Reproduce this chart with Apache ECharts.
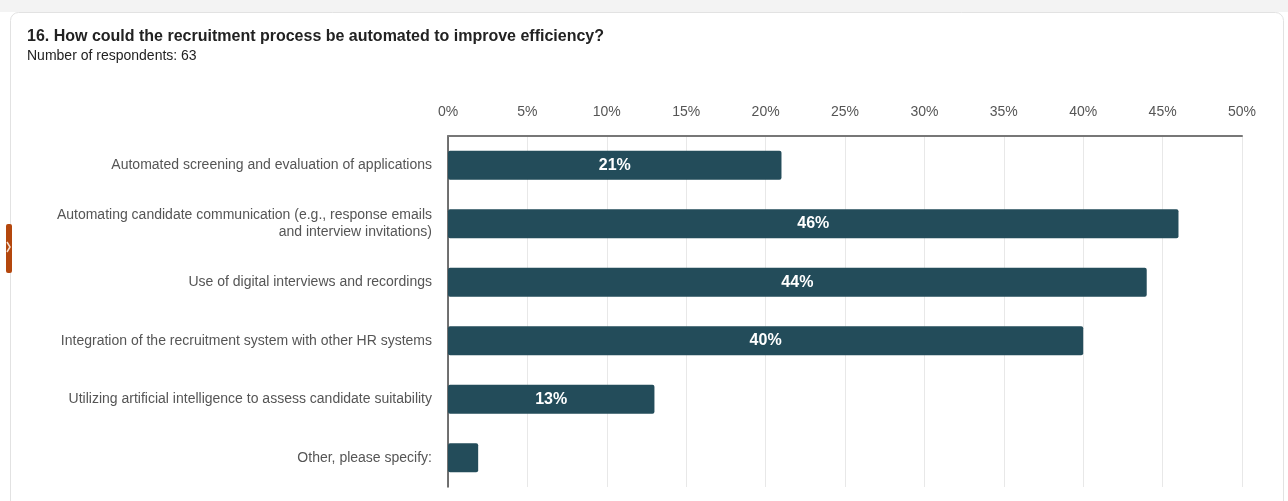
<!DOCTYPE html>
<html>
<head>
<meta charset="utf-8">
<script src="https://cdn.jsdelivr.net/npm/echarts@6/dist/echarts.min.js"></script>
<style>
  html, body { margin: 0; padding: 0; background: #ffffff; }
  #chart { width: 1288px; height: 501px; }
</style>
</head>
<body>
<div id="chart"></div>
<script>
// Survey question 16: answer options and share of respondents (%)
const categories = [
  'Automated screening and evaluation of applications',
  'Automating candidate communication (e.g., response emails\nand interview invitations)',
  'Use of digital interviews and recordings',
  'Integration of the recruitment system with other HR systems',
  'Utilizing artificial intelligence to assess candidate suitability',
  'Other, please specify:'
];
const shares = [21, 46, 44, 40, 13, 1.9];
const titleText = '16. How could the recruitment process be automated to improve efficiency?';
const subtitleText = 'Number of respondents: 63';

const font = '"Liberation Sans", Arial, sans-serif';
const chart = echarts.init(document.getElementById('chart'));

chart.setOption({
  animation: false,
  backgroundColor: '#ffffff',
  textStyle: { fontFamily: font },
  graphic: [
    // grey strip above the card
    { type: 'rect', z: -10, silent: true, shape: { x: 0, y: 0, width: 1288, height: 12 }, style: { fill: '#f3f3f3' } },
    // card outline
    { type: 'rect', z: -9, silent: true, shape: { x: 10.5, y: 12.5, width: 1273, height: 520, r: 8 },
      style: { fill: '#ffffff', stroke: '#e2e2e2', lineWidth: 1 } },
    // side tab
    { type: 'rect', z: 5, silent: true, shape: { x: 6, y: 224, width: 6, height: 49, r: 2 }, style: { fill: '#b4470d' } },
    { type: 'polyline', z: 6, silent: true, shape: { points: [[7, 242], [10, 247], [7, 252]] },
      style: { stroke: '#f6e0d2', lineWidth: 1.5, fill: null } },
    // title and subtitle
    { type: 'text', left: 27, top: 29, style: { text: titleText, font: 'bold 16px ' + font, fill: '#222222' } },
    { type: 'text', left: 27, top: 49, style: { text: subtitleText, font: '14px ' + font, fill: '#222222' } }
  ],
  grid: { left: 448, right: 46, top: 136, bottom: 14, containLabel: false },
  xAxis: {
    type: 'value',
    position: 'top',
    min: 0,
    max: 50,
    interval: 5,
    axisLine: { show: true, lineStyle: { color: '#777777', width: 2 } },
    axisTick: { show: false },
    axisLabel: { color: '#555555', fontSize: 14, margin: 17, formatter: v => v + '%' },
    splitLine: { show: true, lineStyle: { color: '#e8e8e8', width: 1 } }
  },
  yAxis: {
    type: 'category',
    inverse: true,
    data: categories,
    axisLine: { show: true, lineStyle: { color: '#444444', width: 1.5 } },
    axisTick: { show: false },
    axisLabel: { color: '#555555', fontSize: 14, margin: 16, lineHeight: 17, align: 'right' }
  },
  series: [{
    type: 'bar',
    data: shares,
    barWidth: 29,
    itemStyle: { color: '#234c5a', borderRadius: 2 },
    label: {
      show: true,
      position: 'inside',
      color: '#ffffff',
      fontSize: 16,
      fontWeight: 'bold',
      formatter: p => (p.value >= 5 ? Math.round(p.value) + '%' : '')
    }
  }]
});
</script>
</body>
</html>
